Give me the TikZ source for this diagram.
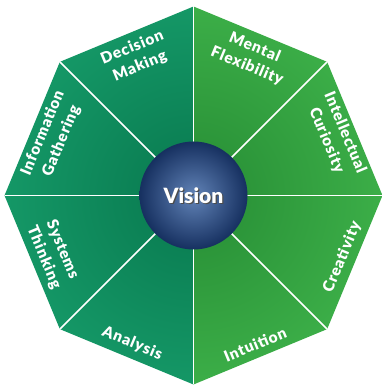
\documentclass[tikz,border=0pt]{standalone}
\usepackage{fontspec}
\setmainfont{Lato}[BoldFont={Lato Black}]
\newfontfamily\segfont{Lato Black}[LetterSpace=5]
\usetikzlibrary{calc}
\definecolor{tealOut}{RGB}{22,155,105}
\definecolor{tealIn}{RGB}{8,120,78}
\definecolor{greenOut}{RGB}{62,178,74}
\definecolor{greenIn}{RGB}{38,140,52}
\definecolor{orbIn}{RGB}{98,132,184}
\definecolor{orbOut}{RGB}{22,48,96}
\tikzset{
  divider/.style={draw=white, line width=1.6pt},
  seglabel/.style={text=white, font=\segfont\fontsize{15.5}{20}\selectfont, align=center, inner sep=0pt},
  hublabel/.style={text=white, font=\bfseries\fontsize{21}{23}\selectfont}
}
\begin{document}
\begin{tikzpicture}[x=1pt,y=1pt]
\useasboundingbox (0,0) rectangle (381,386);
\coordinate (c) at (193.5,190.5);
\def\R{189}
% octagon corners, one every 45 degrees
\foreach \k in {0,...,7}{
  \coordinate (v\k) at ($(c)+(\k*45:\R)$);
}
% left half: teal
\begin{scope}
  \clip (v2) -- (v3) -- (v4) -- (v5) -- (v6) -- cycle;
  \shade[inner color=tealIn, outer color=tealOut] (c) circle (210);
\end{scope}
% right half: green
\begin{scope}
  \clip (v6) -- (v7) -- (v0) -- (v1) -- (v2) -- cycle;
  \shade[inner color=greenIn, outer color=greenOut] (c) circle (210);
\end{scope}
% spokes
\foreach \k in {0,...,7}{
  \draw[divider] (c) -- (v\k);
}
% hub
\shade[inner color=orbIn, outer color=orbOut] (c) circle (54);
\node[hublabel] (hubshadow) at ($(c)+(1.2,-1.5)$) {\textcolor{black!70}{Vision}};
\node[hublabel] (hub) at (c) {Vision};
% segment labels
\node[seglabel, rotate=22.5]  (dm) at ($(c)+(112.5:150)$) {Decision\\Making};
\node[seglabel, rotate=67.5]  (ig) at ($(c)+(157.5:153)$) {Information\\Gathering};
\node[seglabel, rotate=-67.5] (st) at ($(c)+(202.5:152)$) {Systems\\Thinking};
\node[seglabel, rotate=-22.5] (an) at ($(c)+(247.5:160)$) {Analysis};
\node[seglabel, rotate=22.5]  (in) at ($(c)+(292.5:161)$) {Intuition};
\node[seglabel, rotate=67.5]  (cr) at ($(c)+(337.5:161)$) {Creativity};
\node[seglabel, rotate=-67.5] (ic) at ($(c)+(22.5:154)$) {Intellectual\\Curiosity};
\node[seglabel, rotate=-22.5] (mf) at ($(c)+(67.5:150)$) {Mental\\Flexibility};
\end{tikzpicture}
\end{document}
